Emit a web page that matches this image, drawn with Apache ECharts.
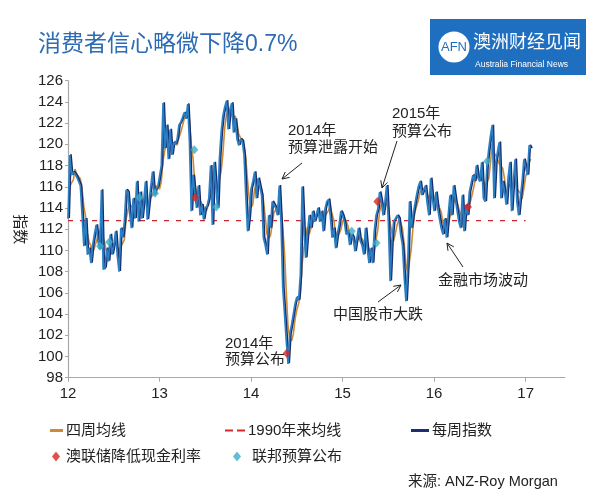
<!DOCTYPE html>
<html><head><meta charset="utf-8">
<script src="https://cdn.jsdelivr.net/npm/echarts@6/dist/echarts.min.js"></script>
<style>html,body{margin:0;padding:0;background:#fff}#c{width:600px;height:493px}</style>
</head><body><div id="c"></div>
<script>
// ---- data ----
const startYear = 12;            // first weekly observation (2012)
const weeksPerYear = 52;
const weeklyIndex = [
113.0,119.0,117.1,117.4,117.2,116.9,116.8,116.1,113.3,110.4,
113.0,109.6,110.2,108.8,110.5,111.5,112.4,110.9,110.1,115.7,
108.2,108.4,110.2,109.0,111.5,109.6,110.5,111.8,109.5,108.0,
112.1,111.2,112.7,115.7,115.5,113.5,112.1,114.9,113.0,116.5,
112.7,115.5,113.0,114.6,116.5,112.9,114.5,116.0,117.4,115.2,
115.8,116.0,116.1,118.0,123.9,119.6,121.8,118.6,121.4,119.0,
120.2,120.0,120.5,121.8,122.1,122.5,123.0,122.4,123.8,120.2,
113.7,117.1,115.5,114.0,116.1,113.3,114.3,112.9,114.0,114.2,
114.9,118.0,112.4,118.3,116.1,114.0,118.6,121.1,122.7,123.5,
124.1,121.4,123.3,123.9,121.1,122.4,120.5,119.9,120.5,120.3,
119.0,115.2,111.8,113.3,115.8,116.5,117.4,114.9,116.8,116.0,
115.2,111.2,110.5,109.6,113.3,112.1,114.6,114.3,114.0,113.3,
116.1,112.7,106.5,104.0,101.5,99.3,102.1,103.0,104.0,105.0,
105.6,105.3,107.7,116.0,112.0,109.3,111.5,113.3,112.1,113.7,
112.7,113.3,114.0,112.7,113.7,111.8,113.9,114.6,114.8,113.3,
111.2,112.1,110.2,111.5,112.4,113.7,113.3,112.7,111.5,111.8,
110.5,111.5,111.2,109.9,111.0,112.1,110.9,110.5,109.6,112.1,
110.2,108.8,110.2,108.8,111.8,113.3,113.9,115.5,114.6,113.3,
114.5,116.1,112.7,107.1,110.9,112.7,112.7,113.3,113.0,111.5,
110.5,107.5,105.2,108.6,114.6,112.1,113.3,114.3,115.2,116.0,
116.5,115.2,115.7,116.1,114.5,113.3,116.8,114.9,113.7,115.5,
114.0,113.0,112.1,111.5,113.0,111.2,113.3,115.2,113.3,116.1,
114.9,113.8,112.7,112.1,115.2,111.8,114.3,113.3,115.5,116.3,
117.1,116.5,118.0,116.8,116.5,118.3,114.9,114.6,118.0,119.5,
120.8,121.8,114.9,118.3,119.3,120.2,114.9,116.5,115.5,114.3,
116.8,118.3,113.7,116.5,118.6,114.6,113.3,115.0,116.5,118.6,
117.8,117.1,119.9,119.6
];
const avgSince1990 = 112.8;
const avgLineEnd = 17.0;
// RBA cash-rate cuts: [year, index]
const rbaCuts = [[13.39,115.0],[14.39,100.3],[15.38,114.6],[16.37,114.1]];
// Federal budget releases: [year, index]
const budgets = [[12.35,110.4],[12.45,110.8],[12.78,115.0],[12.95,115.4],[13.38,119.5],[13.62,114.1],[15.10,111.8],[15.37,110.7],[16.58,118.4]];
const xTickValues = [12,13,14,15,16,17];
const xTickLabels = ['12','13','14','15','16','17'];
const yMin = 98, yMax = 126, yStep = 2;

// ---- build series data ----
const weeklyData = weeklyIndex.map((v,i)=>[startYear + i/weeksPerYear, v]);
const ma4Data = weeklyIndex.map((v,i)=>{
  const s = weeklyIndex.slice(Math.max(0,i-3), i+1);
  return [startYear + i/weeksPerYear, +(s.reduce((a,b)=>a+b,0)/s.length).toFixed(2)];
});
const avgData = [[startYear, avgSince1990],[avgLineEnd, avgSince1990]];

const FONT = "'Liberation Sans','Noto Sans CJK SC',sans-serif";
const TXT = '#222';

function arrow(x1,y1,x2,y2){
  const a = Math.atan2(y2-y1,x2-x1), L=7, W=3.5;
  const bx = x2 - L*Math.cos(a), by = y2 - L*Math.sin(a);
  const p1 = [bx + W*Math.sin(a), by - W*Math.cos(a)];
  const p2 = [bx - W*Math.sin(a), by + W*Math.cos(a)];
  return [
    {type:'line', shape:{x1,y1,x2,y2}, style:{stroke:'#222',lineWidth:1}, z:100},
    {type:'polyline', shape:{points:[p1,[x2,y2],p2]}, style:{stroke:'#222',lineWidth:1,fill:null}, z:100}
  ];
}
function txt(x,y,text,size,color,extra){
  return Object.assign({type:'text', x, y, z:100,
    style:{text, fill:color||TXT, font:(size||15)+'px '+FONT, textVerticalAlign:'middle'}}, extra||{});
}

const chart = echarts.init(document.getElementById('c'), null, {renderer:'canvas'});
const legendBase = {orient:'horizontal', padding:0, itemGap:0, selectedMode:false,
  textStyle:{fontSize:15, color:TXT, fontFamily:FONT, padding:[0,0,0,-2]}};

chart.setOption({
  animation:false,
  backgroundColor:'#fff',
  grid:{left:68, top:80.7, width:497, height:297, containLabel:false},
  xAxis:{type:'value', min:12, max:17.43, interval:1,
    axisLine:{lineStyle:{color:'#a8a8a8', width:1.2}},
    axisTick:{show:true, length:4, lineStyle:{color:'#a8a8a8'}, customValues:xTickValues},
    axisLabel:{fontSize:15, color:TXT, fontFamily:FONT, margin:9,
      customValues:xTickValues,
      formatter:(v)=>{const k=xTickValues.indexOf(v); return k>=0?xTickLabels[k]:'';}},
    splitLine:{show:false}},
  yAxis:{type:'value', min:yMin, max:yMax, interval:yStep,
    name:'指数', nameLocation:'middle', nameRotate:-90, nameGap:34,
    nameTextStyle:{fontSize:15, color:TXT, fontFamily:FONT},
    axisLine:{show:true, lineStyle:{color:'#a8a8a8', width:1.2}},
    axisTick:{show:true, length:3, lineStyle:{color:'#a8a8a8'}},
    axisLabel:{fontSize:15, color:TXT, fontFamily:FONT, margin:5},
    splitLine:{show:false}},
  legend:[
    Object.assign({}, legendBase, {left:50, top:423, itemWidth:13, itemHeight:3,
      data:[{name:'四周均线', icon:'rect', itemStyle:{color:'#cf8a35'}}]}),
    Object.assign({}, legendBase, {left:225, top:423, itemWidth:20, itemHeight:3,
      data:[{name:'1990年来均线', icon:'path://M0,0H8V2H0ZM12,0H20V2H12Z', itemStyle:{color:'#d62a2a'}}]}),
    Object.assign({}, legendBase, {left:411, top:423, itemWidth:18, itemHeight:3,
      data:[{name:'每周指数', icon:'rect', itemStyle:{color:'#1c2f72'}}]}),
    Object.assign({}, legendBase, {left:52, top:449, itemWidth:8, itemHeight:10,
      textStyle:Object.assign({}, legendBase.textStyle, {padding:[0,0,0,1]}),
      data:[{name:'澳联储降低现金利率', icon:'diamond', itemStyle:{color:'#d9251d'}}]}),
    Object.assign({}, legendBase, {left:233, top:449, itemWidth:8, itemHeight:10,
      textStyle:Object.assign({}, legendBase.textStyle, {padding:[0,0,0,6]}),
      data:[{name:'联邦预算公布', icon:'diamond', itemStyle:{color:'#3aaec9'}}]})
  ],
  series:[
    {name:'1990年来均线', type:'line', data:avgData, showSymbol:false, z:1,
      lineStyle:{color:'#c8282a', width:1.3, type:[5,7]}},
    {name:'四周均线', type:'line', data:ma4Data, showSymbol:false, z:2,
      lineStyle:{color:'#cf8a35', width:1.6}},
    {name:'每周指数', type:'line', data:weeklyData, showSymbol:false, z:3,
      lineStyle:{color:'#2a7fc2', width:1.7, shadowColor:'#172c6e', shadowOffsetX:1.2, shadowOffsetY:-0.6, shadowBlur:0}},
    {name:'澳联储降低现金利率', type:'scatter', data:rbaCuts, symbol:'diamond', symbolSize:[8,9], z:5,
      itemStyle:{color:'#d9251d'}},
    {name:'联邦预算公布', type:'scatter', data:budgets, symbol:'diamond', symbolSize:[8,9], z:5,
      itemStyle:{color:'#3aaec9'}}
  ],
  graphic:[
    txt(38, 45, '消费者信心略微下降0.7%', 23, '#2d6cb4'),
    {type:'rect', shape:{x:430, y:19, width:156, height:56}, style:{fill:'#1f6fc1'}},
    {type:'circle', shape:{cx:454, cy:47, r:15.5}, style:{fill:'#fff'}},
    {type:'text', x:454, y:47, style:{text:'AFN', fill:'#1f6fc1', font:'13px '+FONT, textAlign:'center', textVerticalAlign:'middle'}},
    txt(473, 43, '澳洲财经见闻', 18, '#fff'),
    txt(475, 65, 'Australia Financial News', 8.5, '#fff'),
    txt(288, 131, '2014年', 15),
    txt(288, 148, '预算泄露开始', 15),
    txt(225, 344, '2014年', 15),
    txt(225, 360, '预算公布', 15),
    txt(392, 114, '2015年', 15),
    txt(392, 132, '预算公布', 15),
    txt(333, 315, '中国股市大跌', 15),
    txt(438, 281, '金融市场波动', 15),
    txt(408, 482, '来源: ANZ-Roy Morgan', 14.5),
    ...arrow(302,163,282,179),
    ...arrow(397,141,382,188),
    ...arrow(378,302,401,285),
    ...arrow(463,267,447,243)
  ]
});
</script></body></html>
